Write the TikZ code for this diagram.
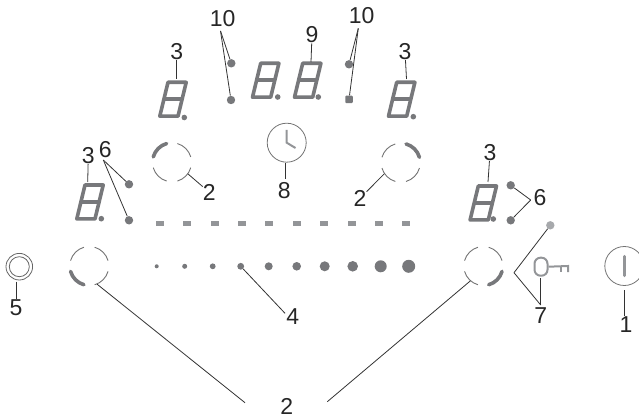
\documentclass[tikz,border=0pt]{standalone}
\usepackage{fontspec}
\setmainfont{Liberation Sans}
\definecolor{segcol}{HTML}{77787B}
\definecolor{barcol}{HTML}{939598}
\definecolor{keycol}{HTML}{A7A9AC}
\tikzstyle{num}=[inner sep=0pt,text=black!85,font=\fontsize{23}{23}\selectfont]
\tikzstyle{lead}=[line width=0.8pt,draw=black!80]
\tikzstyle{place}=[circle,fill=segcol,inner sep=0pt,minimum size=8.4pt]
\tikzstyle{point}=[circle,fill=segcol,inner sep=0pt,minimum size=5.6pt]
\tikzstyle{seg}=[line width=3.6pt,draw=segcol,line join=round]
\tikzstyle{bar}=[rectangle,fill=barcol,inner sep=0pt,minimum width=8pt,minimum height=5pt]
\tikzstyle{ring}=[circle,inner sep=0pt,minimum size=39pt]
\tikzstyle{outline}=[circle,draw=black!55,line width=0.8pt,inner sep=0pt,minimum size=39pt]
\tikzstyle{thinarc}=[line width=0.9pt,draw=black!55]
\tikzstyle{thickarc}=[line width=3.6pt,draw=segcol,line cap=round]
\tikzstyle{symb}=[line width=2pt,draw=barcol]
\newcommand{\segdigit}[2]{
	\begin{scope}[shift={(#1,#2)}]
		\draw [seg] (1.8,1.8) -- (20,1.8) -- (28.2,35.7) -- (10,35.7) -- cycle;
		\draw [seg] (5.9,18.75) -- (24.1,18.75);
	\end{scope}}
\newcommand{\ringarcs}[2]{
	\foreach \a in {45,135,225,315}
		\draw [thinarc] (#1) ++({\a+29}:19.5) arc [start angle=\a+29,end angle=\a-29,radius=19.5];
	\draw [thickarc] (#1) ++({#2+29}:19.5) arc [start angle=#2+29,end angle=#2-29,radius=19.5];}

\begin{document}
\begin{tikzpicture}[x=1pt,y=1pt]
	\useasboundingbox (0,0) rectangle (639,418);
	
	% displays
	\segdigit{158}{300}
	\segdigit{250.7}{319}
	\segdigit{292.7}{319}
	\segdigit{386.7}{300}
	\segdigit{75}{197.3}
	\segdigit{468.3}{196.3}
	
	\node (p1) at (184.3,300.5) [point] {};
	\node (p2) at (277.7,321) [point] {};
	\node (p3) at (318.3,321) [point] {};
	\node (p4) at (413.3,301.3) [point] {};
	\node (p5) at (101.3,199.3) [point] {};
	\node (p6) at (493.3,199) [point] {};
	
	\coordinate (t1) at (176.7,339);
	\coordinate (t2) at (311,356);
	\coordinate (t3) at (406.5,339);
	\coordinate (t4) at (87.7,236);
	\coordinate (t5) at (488,236);
	
	% indicator dots
	\node (d1) at (231.3,354.7) [place] {};
	\node (d2) at (231,318) [place] {};
	\node (d3) at (349,353.7) [place] {};
	\node (d4) at (349,318.7) [place,rectangle,rounded corners=1pt,minimum size=7.5pt] {};
	\node (d5) at (129,233.7) [place] {};
	\node (d6) at (129,197.7) [place] {};
	\node (d7) at (510.7,232.7) [place] {};
	\node (d8) at (510.7,197.7) [place] {};
	\node (d9) at (550.3,192.7) [place,fill=keycol] {};
	
	% slider
	\foreach \x in {160,187,215,242,269,297,324,351.7,379,406}
		\node at (\x,194.7) [bar] {};
	\foreach \x/\s [count=\i] in {156.7/4,184.7/5,212.7/5.8,240.7/6.8,268.7/8,296.7/8.6,324.7/10,352.7/10.6,380.7/12,408.7/13}
		\node (s\i) at (\x,151.7) [place,minimum size=\s pt] {};
	
	% rings
	\node (r1) at (172,255.7) [ring] {};
	\node (r2) at (400.7,255.3) [ring] {};
	\node (r3) at (89.3,152) [ring] {};
	\node (r4) at (483.3,152) [ring] {};
	\ringarcs{r1}{135}
	\ringarcs{r2}{45}
	\ringarcs{r3}{225}
	\ringarcs{r4}{315}
	
	% clock
	\node (c1) at (286.7,275.3) [outline] {};
	\coordinate (c2) at (286.7,288);
	\coordinate (c3) at (286.7,275.3);
	\coordinate (c4) at (295.5,270);
	\draw [symb] (c2) -- (c3) -- (c4);
	
	% hob button and power
	\node (b1) at (19.3,151.3) [circle,draw=black!60,line width=0.8pt,inner sep=0pt,minimum size=26.6pt] {};
	\node (b2) at (19.3,151.3) [circle,draw=black!60,line width=0.8pt,inner sep=0pt,minimum size=20pt] {};
	\node (o1) at (624.3,152) [outline] {};
	\coordinate (o2) at (624.3,161.5);
	\coordinate (o3) at (624.3,142.5);
	\draw [symb,line width=3.5pt,line cap=round] (o2) -- (o3);
	
	% key
	\node (k1) at (541,151.3) [symb,rectangle,rounded corners=6pt,inner sep=0pt,minimum width=13pt,minimum height=18pt] {};
	\coordinate (k2) at (568,152);
	\coordinate (k3) at (560.7,152);
	\coordinate (k4) at (560.7,146);
	\coordinate (k5) at (568,146);
	\draw [symb] (k1.east) -- (k2) -- (k5);
	\draw [symb] (k3) -- (k4);
	
	% labels
	\node (n1) at (626,93) [num] {1};
	\node (n2a) at (209.3,225.7) [num] {2};
	\node (n2b) at (360,219.7) [num] {2};
	\node (n2c) at (286.7,12) [num] {2};
	\node (n3a) at (176.7,366) [num] {3};
	\node (n3b) at (405,366.3) [num] {3};
	\node (n3c) at (88.3,262.3) [num] {3};
	\node (n3d) at (490,265.3) [num] {3};
	\node (n4) at (292.7,101.3) [num] {4};
	\node (n5) at (16,110.7) [num] {5};
	\node (n6a) at (105.3,268.7) [num] {6};
	\node (n6b) at (540,220.3) [num] {6};
	\node (n7) at (540.7,102) [num] {7};
	\node (n8) at (284.3,227) [num] {8};
	\node (n9) at (312,383) [num] {9};
	\node (n10a) at (222.7,399) [num] {10};
	\node (n10b) at (361.7,402.3) [num] {10};
	
	% free ends
	\coordinate (j1) at (220.5,387);
	\coordinate (j2) at (358.3,389.7);
	\coordinate (j3) at (103.3,258);
	\coordinate (j4) at (530.7,218);
	\coordinate (j5) at (514,145.3);
	\coordinate (j6) at (540.7,113);
	\coordinate (j7) at (540.7,139.7);
	\coordinate (j8) at (245,15.3);
	\coordinate (j9) at (327.3,16.3);
	\coordinate (j10) at (285,104.7);
	\coordinate (j11) at (285,255);
	\coordinate (j12) at (285,239);
	\coordinate (j13) at (16.7,136.3);
	\coordinate (j14) at (16.7,118.7);
	\coordinate (j15) at (624.3,128);
	\coordinate (j16) at (624.3,102);
	
	\draw [lead] (n3a) to (t1);
	\draw [lead] (n3b) to (t3);
	\draw [lead] (n3c) to (t4);
	\draw [lead] (n3d) to (t5);
	\draw [lead] (n9) to (t2);
	\draw [lead] (j1) to (d1);
	\draw [lead] (j1) to (d2);
	\draw [lead] (j2) to (d3);
	\draw [lead] (j2) to (d4);
	\draw [lead] (j3) to (d5);
	\draw [lead] (j3) to (d6);
	\draw [lead] (j4) to (d7);
	\draw [lead] (j4) to (d8);
	\draw [lead] (j5) to (d9);
	\draw [lead] (j5) to (j6);
	\draw [lead] (j7) to (j6);
	\draw [lead] (r1.-36) to (n2a);
	\draw [lead] (r2.214) to (n2b);
	\draw [lead] (r3.-67) to (j8);
	\draw [lead] (r4.229) to (j9);
	\draw [lead] (s4) to (j10);
	\draw [lead] (j11) to (j12);
	\draw [lead] (j13) to (j14);
	\draw [lead] (j15) to (j16);
		
\end{tikzpicture}
\end{document}
